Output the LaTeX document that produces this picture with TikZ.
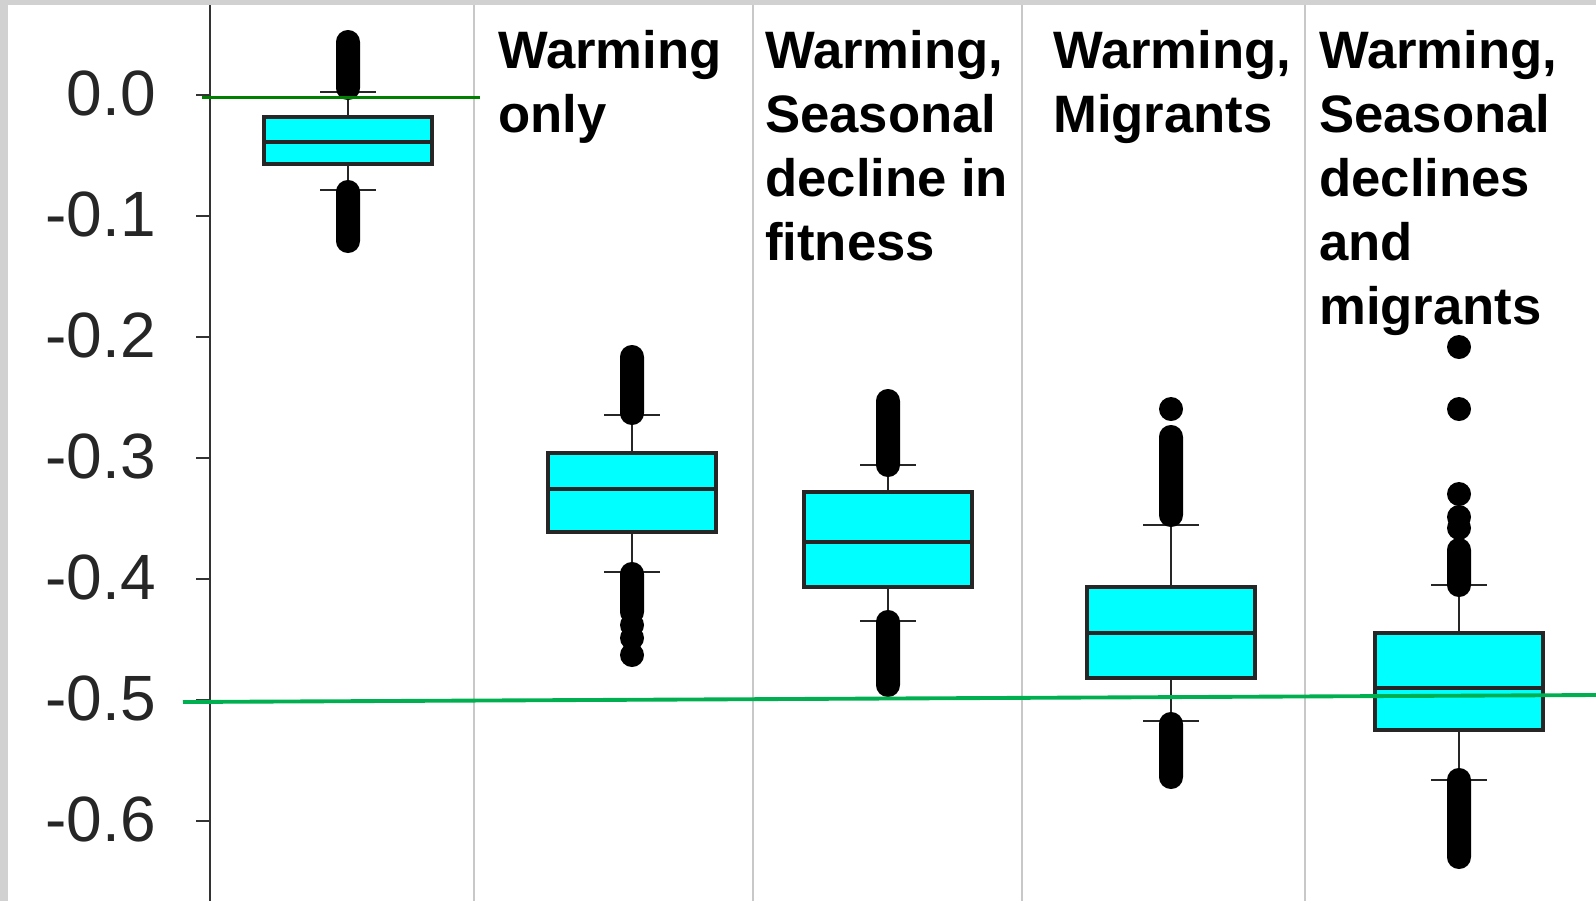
\documentclass[tikz,border=0pt]{standalone}
\usepackage{fontspec}
\setmainfont{Liberation Sans}

\begin{document}
\begin{tikzpicture}
[x=0.75pt,y=-0.75pt,
% Styles
axis line/.style={draw=axiscolor,line width=2.1pt},
separator/.style={draw=sepcolor,line width=1.1pt},
box/.style={draw=boxcolor,fill=boxfill,line width=2.3pt},
whisker/.style={draw=boxcolor,line width=1.9pt},
outlier/.style={fill=black},
tick label/.style={anchor=east,inner sep=0pt,text=black!85,font=\fontsize{48}{48}\selectfont},
case label/.style={anchor=north west,inner sep=0pt,align=left,font=\fontsize{39.5}{48}\selectfont\bfseries},
reference line/.style={line width=2.9pt}]
% Local definitions
\def\halfbox{84}
\def\halfcap{28}
% Colors
\colorlet{axiscolor}{black!80}
\definecolor{sepcolor}{RGB}{200,200,200}
\definecolor{boxfill}{RGB}{0,255,255}
\colorlet{boxcolor}{black!85}
\definecolor{zerocolor}{RGB}{0,128,0}
\definecolor{halfcolor}{RGB}{0,176,80}
% The graphic
\fill[black!18] (0,0) rectangle (1596,901);
\fill[white] (8,5) rectangle (1596,901);
\useasboundingbox (0,0) rectangle (1596,901);
\foreach \x in {474,753,1022,1305}
\draw[separator] (\x,5) -- (\x,901);
\draw[axis line] (210,5) -- (210,901);
\foreach \y/\ytext [count=\i] in {95/0.0,216/-0.1,337/-0.2,458/-0.3,579/-0.4,700/-0.5,821/-0.6}
\draw[line width=1.6pt,draw=axiscolor] (196,\y) -- (210,\y) node[tick label] (tick\i) at (157,\y-2) {\ytext};
% Boxes: centre/upper quartile/median/lower quartile/upper whisker/lower whisker
\foreach \cx/\qa/\md/\qb/\wa/\wb in {348/117/142/164/92/190, 632/453/489/532/415/572,
888/492/542/587/465/621, 1171/587/633/678/525/721, 1459/633/688/730/585/780}
{
\draw[whisker] (\cx,\wa) -- (\cx,\wb);
\draw[whisker] (\cx-\halfcap,\wa) -- (\cx+\halfcap,\wa);
\draw[whisker] (\cx-\halfcap,\wb) -- (\cx+\halfcap,\wb);
\draw[box] (\cx-\halfbox,\qa) rectangle (\cx+\halfbox,\qb);
\draw[box] (\cx-\halfbox,\md) -- (\cx+\halfbox,\md);
}
% Outliers
\foreach \cx/\ya/\yb in {348/42/88, 348/192/241, 632/357/413, 632/574/612, 888/401/465,
888/622/685, 1171/437/515, 1171/724/777, 1459/550/585, 1459/780/857}
\fill[outlier,rounded corners=8.9pt] (\cx-12,\ya-12) rectangle (\cx+12,\yb+12);
\foreach \cx/\y in {632/625, 632/638, 632/655, 1171/409, 1459/347, 1459/409, 1459/494, 1459/517, 1459/528}
\fill[outlier] (\cx,\y) circle[radius=9pt];
% Case labels
\node[case label] (only) at (498,30) {Warming\\only};
\node[case label] (decline) at (765,30) {Warming,\\Seasonal\\decline in\\fitness};
\node[case label] (migrants) at (1053,30) {Warming,\\Migrants};
\node[case label] (both) at (1319,30) {Warming,\\Seasonal\\declines\\and\\migrants};
% Reference lines
\draw[reference line,zerocolor] (202,97.5) -- (480,97.5);
\draw[reference line,halfcolor] (183,702) -- (1596,695);
\end{tikzpicture}
\end{document}
